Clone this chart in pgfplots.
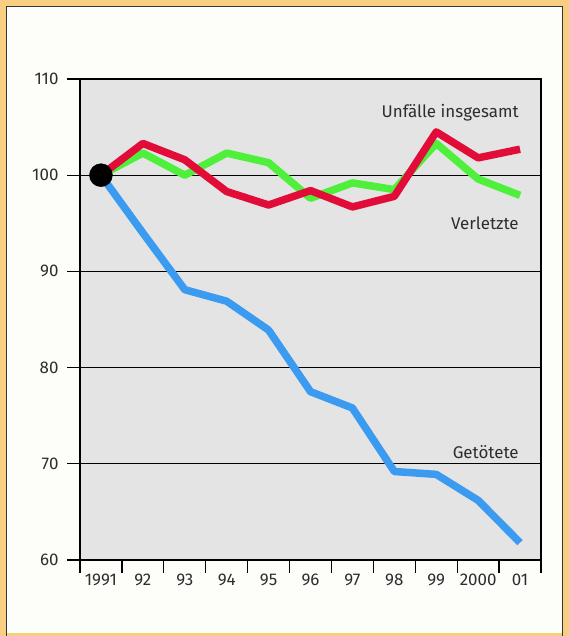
\documentclass[border=0pt]{standalone}
\usepackage{pgfplots}
\pgfplotsset{compat=1.18}
\usepackage{fontspec}
\setmainfont{Fira Sans}
\definecolor{frameor}{RGB}{248,206,128}
\definecolor{inner}{RGB}{253,253,250}
\definecolor{plotbg}{RGB}{228,228,228}
\definecolor{cred}{RGB}{226,12,56}
\definecolor{cgreen}{RGB}{78,240,60}
\definecolor{cblue}{RGB}{58,155,240}
\definecolor{txt}{RGB}{45,45,45}
\pgfplotstableread{
x unf verl get
0.5 100.0 100.0 100.0
1.5 103.3 102.3 94.0
2.5 101.6 100.0 88.1
3.5 98.3 102.3 86.9
4.5 96.9 101.3 83.9
5.5 98.4 97.6 77.5
6.5 96.7 99.2 75.8
7.5 97.8 98.5 69.2
8.5 104.5 103.3 68.9
9.5 101.8 99.6 66.2
10.5 102.7 97.9 61.8
}\datatab
\begin{document}
\begin{tikzpicture}[x=1bp,y=1bp]
\useasboundingbox (0,0) rectangle (569,636);
\fill[frameor] (0,0) rectangle (569,636);
\fill[inner] (6,3) rectangle (563,630);
\draw[black!80, line width=1.5bp] (6.5,0) -- (6.5,629.5) -- (562.5,629.5) -- (562.5,0);
\begin{axis}[
  at={(80bp,76bp)}, anchor=south west,
  scale only axis, width=461bp, height=481bp,
  xmin=0, xmax=11, ymin=60, ymax=110,
  axis background/.style={fill=plotbg},
  axis line style={line width=1.4bp, black},
  xtick pos=bottom, ytick pos=left,
  xtick={0,...,11}, xticklabels={},
  extra x ticks={0.5,1.5,...,10.5},
  extra x tick labels={1991,92,93,94,95,96,97,98,99,2000,01},
  extra x tick style={major tick length=0pt, grid=none},
  ytick={60,70,...,110},
  ymajorgrids, grid style={line width=1.2bp, black},
  tick align=outside, major tick length=13bp,
  tick style={line width=1.3bp, black},
  tick label style={font=\fontsize{17}{19}\selectfont, text=txt},
  /pgf/number format/assume math mode=true,
  xticklabel style={yshift=-10bp},
  yticklabel style={xshift=-5bp},
  clip=false,
]
\addplot[cblue, line width=7.5bp, line join=round] table[x=x,y=get] {\datatab};
\addplot[cgreen, line width=7.5bp, line join=round] table[x=x,y=verl] {\datatab};
\addplot[cred, line width=7.5bp, line join=round] table[x=x,y=unf] {\datatab};
\addplot[only marks, mark=*, mark size=11.5bp, black] coordinates {(0.5,100)};
\node[anchor=east, text=txt, font=\fontsize{17}{19}\selectfont] at (axis cs:10.55,106.5) {Unfälle insgesamt};
\node[anchor=east, text=txt, font=\fontsize{17}{19}\selectfont] at (axis cs:10.55,95.0) {Verletzte};
\node[anchor=east, text=txt, font=\fontsize{17}{19}\selectfont] at (axis cs:10.55,71.2) {Getötete};
\end{axis}
\end{tikzpicture}
\end{document}
